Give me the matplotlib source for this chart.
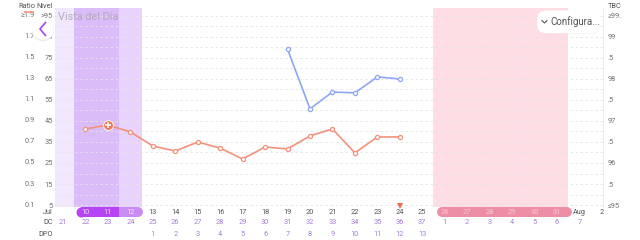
import matplotlib
matplotlib.use('Agg')
import matplotlib.pyplot as plt
from matplotlib.transforms import blended_transform_factory
from matplotlib.patches import Circle, FancyBboxPatch
from matplotlib.lines import Line2D

plt.rcParams['font.family'] = ['Roboto', 'DejaVu Sans']

# columns: Jul 9 .. Aug 2
days = ['', '10', '11', '12', '13', '14', '15', '16', '17', '18', '19', '20', '21',
        '22', '23', '24', '25', '26', '27', '28', '29', '30', '31', 'Aug', '2']
dc = ['21', '22', '23', '24', '25', '26', '27', '28', '29', '30', '31', '32', '33',
      '34', '35', '36', '37', '1', '2', '3', '4', '5', '6', '7', '']
dpo = ['', '', '', '', '1', '2', '3', '4', '5', '6', '7', '8', '9', '10', '11', '12',
       '13', '', '', '', '', '', '', '', '']

# left scales
nivel_ticks = [5, 15, 25, 35, 45, 55, 65, 75, 85, 95]
nivel_labels = ['5', '15', '25', '35', '45', '55', '65', '75', '85', '>95']
ratio_labels = ['0.1', '0.3', '0.5', '0.7', '0.9', '1.1', '1.3', '1.5', '1.7', '≥1.9']
# right scale
tbc_ticks = [95, 95.5, 96, 96.5, 97, 97.5, 98, 98.5, 99, 99.5]
tbc_labels = ['≤95', '.5', '96', '.5', '97', '.5', '98', '.5', '99', '≥99.']

# orange series (nivel), columns 1..15
lh_x = list(range(1, 16))
lh_nivel = [41.2, 43.1, 39.8, 33.1, 30.7, 35.0, 32.1, 26.9, 32.6, 31.7, 37.9, 41.2, 29.8, 37.4, 37.4]
peak_x = 2
# blue series (TBC), columns 10..15
tbc_x = [10, 11, 12, 13, 14, 15]
tbc_vals = [98.71, 97.29, 97.69, 97.67, 98.05, 98.0]

fertile_light = [0, 3]
fertile_dark = [1, 2]
period_cols = [17, 18, 19, 20, 21, 22]
marker_col = 15

ORANGE = '#F5907A'
BLUE = '#8EA6F4'
PURPLE_TXT = '#A57ED6'
GRAY_TXT = '#707070'
FS = 5.3

fig = plt.figure(figsize=(6.4, 2.4), dpi=100)
ax = fig.add_axes([55 / 640, 33 / 240, 548 / 640, 199 / 240])
ax.set_xlim(-0.356, 24.05)
ax.set_ylim(4.05, 98.8)

# background bands
ax.axvspan(-0.5, 0.5, color='#F1E8FD', lw=0, zorder=0)
ax.axvspan(0.5, 2.5, color='#D9BCF8', lw=0, zorder=0)
ax.axvspan(2.5, 3.5, color='#E7D3FB', lw=0, zorder=0)
ax.axvspan(period_cols[0] - 0.5, period_cols[-1] + 0.5, color='#FEDDE5', lw=0, zorder=0)

# dashed grid every 5 nivel
for g in range(5, 100, 5):
    ax.axhline(g, color='#E4E4E4', lw=0.6, ls=(0, (3, 3)), zorder=1)

for s in ['top', 'left', 'bottom']:
    ax.spines[s].set_visible(False)
ax.spines['right'].set_color('#EEEEEE')
ax.set_xticks([])
ax.set_yticks(nivel_ticks)
ax.set_yticklabels(nivel_labels)
ax.tick_params(axis='y', length=0, pad=1.5, labelsize=FS, labelcolor=GRAY_TXT)

for t, lab in zip(nivel_ticks, ratio_labels):
    ax.text(-0.0365, t, lab, transform=ax.get_yaxis_transform(), ha='right',
            va='center', fontsize=FS, color=GRAY_TXT)

ax2 = ax.twinx()
ax2.set_ylim(95 + (4.05 - 5) / 20, 95 + (98.8 - 5) / 20)
for s in ['top', 'left', 'bottom', 'right']:
    ax2.spines[s].set_visible(False)
ax2.set_yticks(tbc_ticks)
ax2.set_yticklabels(tbc_labels)
ax2.tick_params(axis='y', length=0, pad=3.5, labelsize=FS, labelcolor=GRAY_TXT)
for lab in ax2.get_yticklabels():
    lab.set_ha('left')

# lines
ax.plot(lh_x, lh_nivel, color=ORANGE, lw=1.2, marker='o', ms=3, mfc='white',
        mec=ORANGE, mew=0.9, zorder=5)
pv = lh_nivel[lh_x.index(peak_x)]
ax.plot(peak_x, pv, 'o', ms=7, color='#F2775A', mec='white', mew=0.6, zorder=6)
ax.plot(peak_x, pv, marker='+', color='white', ms=4, mew=1.1, zorder=7)
ax2.plot(tbc_x, tbc_vals, color=BLUE, lw=1.2, marker='o', ms=3, mfc='white',
         mec=BLUE, mew=0.9, zorder=5)

# bottom rows
trans = blended_transform_factory(ax.transData, fig.transFigure)
y_day, y_dc, y_dpo = 28 / 240, 17 / 240, 5 / 240

# pills
pill_lw = 7.2
ax.plot([2.5, 3.34], [y_day, y_day], transform=trans, color='#C98CF5', lw=pill_lw,
        solid_capstyle='round', clip_on=False)
ax.plot([0.8, 2.5], [y_day, y_day], transform=trans, color='#B544F2', lw=pill_lw,
        solid_capstyle='butt', clip_on=False)
ax.plot([0.8], [y_day], transform=trans, marker='o', ms=pill_lw, color='#B544F2',
        mew=0, clip_on=False)
ax.plot([16.88, 22.45], [y_day, y_day], transform=trans, color='#EE8DA6', lw=pill_lw,
        solid_capstyle='round', clip_on=False)
ax.plot([marker_col], [34 / 240], transform=trans, marker='v', ms=4.5,
        color='#F26A4A', mew=0, clip_on=False)

for k, (d, c, p) in enumerate(zip(days, dc, dpo)):
    if k in fertile_dark:
        col = '#F0DDFC'
    elif k in fertile_light:
        col = '#F5EAFD' if k == 3 else GRAY_TXT
    elif k in period_cols:
        col = '#F8C8D4'
    else:
        col = '#555555'
    ax.text(k, y_day, d, transform=trans, ha='center', va='center', fontsize=FS, color=col)
    ax.text(k, y_dc, c, transform=trans, ha='center', va='center', fontsize=FS, color=PURPLE_TXT)
    ax.text(k, y_dpo, p, transform=trans, ha='center', va='center', fontsize=FS, color=PURPLE_TXT)

for lab, y in [('Jul', y_day), ('DC', y_dc), ('DPO', y_dpo)]:
    fig.text(53 / 640, y, lab, ha='right', va='center', fontsize=FS, color='#555555')

# header
fig.text(35 / 640, 1 - 6 / 240, 'Ratio', ha='right', va='center', fontsize=FS, color='#555555')
fig.add_artist(Line2D([25 / 640, 33 / 640], [1 - 12 / 240] * 2, color=ORANGE, lw=1.2))
fig.text(53 / 640, 1 - 6 / 240, 'Nivel', ha='right', va='center', fontsize=FS, color='#555555')
fig.text(608 / 640, 1 - 6 / 240, 'TBC', ha='left', va='center', fontsize=FS, color='#555555')
fig.text(58 / 640, 1 - 17 / 240, 'Vista del Día', ha='left', va='center', fontsize=7.8,
         color='#B3A9BE', zorder=5)

# back button
inch = fig.dpi_scale_trans
fig.add_artist(Circle((0.43, 2.4 - 0.30), 0.112, transform=inch, facecolor='#EAEAEA',
                      edgecolor='none', zorder=8))
fig.add_artist(Circle((0.43, 2.4 - 0.29), 0.108, transform=inch, facecolor='white',
                      edgecolor='none', zorder=9))
fig.add_artist(Line2D([0.455, 0.40, 0.455], [2.4 - 0.225, 2.4 - 0.29, 2.4 - 0.355],
                      transform=inch, color='#A245EA', lw=1.2, zorder=10))

# settings button
fig.add_artist(FancyBboxPatch((5.37, 2.4 - 0.335), 0.63, 0.225, transform=inch,
                              boxstyle='round,pad=0,rounding_size=0.09',
                              facecolor='#ECECEC', edgecolor='none', zorder=8))
fig.add_artist(FancyBboxPatch((5.37, 2.4 - 0.33), 0.63, 0.225, transform=inch,
                              boxstyle='round,pad=0,rounding_size=0.09',
                              facecolor='white', edgecolor='none', zorder=9))
fig.add_artist(Line2D([5.42, 5.445, 5.47], [2.4 - 0.205, 2.4 - 0.23, 2.4 - 0.205],
                      transform=inch, color='#555555', lw=0.8, zorder=10))
fig.text(5.5 / 6.4, 1 - 21.5 / 240, 'Configura...', ha='left', va='center', fontsize=7,
         color='#555555', zorder=10)

fig.savefig('out.png', dpi=100)
